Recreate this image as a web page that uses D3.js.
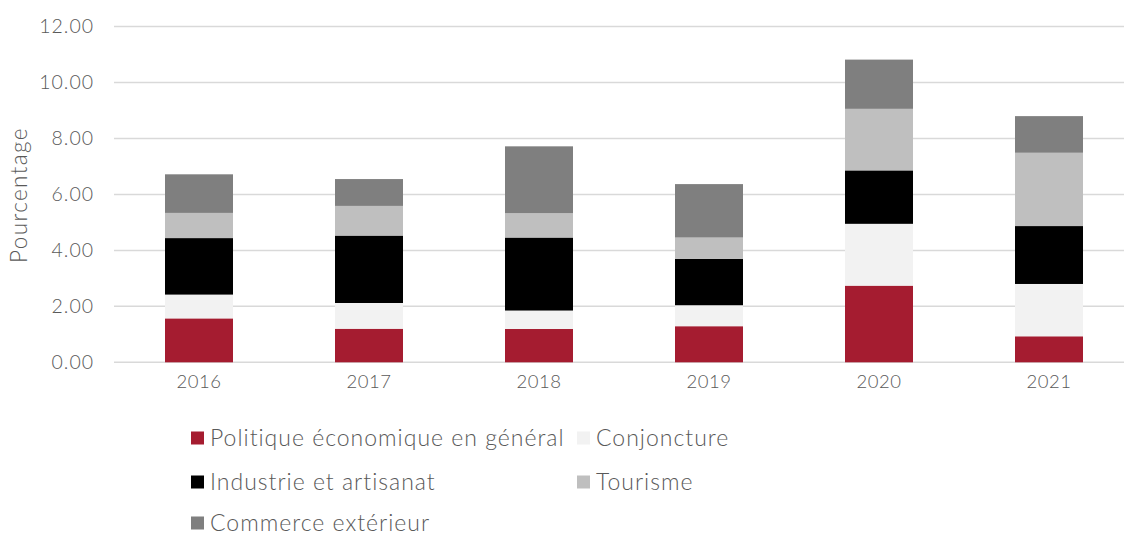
<!DOCTYPE html>
<html><head><meta charset="utf-8">
<script src="https://cdn.jsdelivr.net/npm/d3@7"></script>
<style>
body{margin:0;background:#fff;}
svg text{font-family:Lato,"Open Sans",sans-serif;font-weight:300;fill:#595959;}
</style></head>
<body><svg id="c" width="1124" height="536"></svg>
<script>
const years = ["2016","2017","2018","2019","2020","2021"];
const seriesNames = ["Politique économique en général","Conjoncture","Industrie et artisanat","Tourisme","Commerce extérieur"];
const politique = [1.57,1.20,1.19,1.29,2.74,0.93];
const conjoncture = [0.85,0.92,0.66,0.75,2.21,1.87];
const industrie = [2.02,2.41,2.61,1.66,1.91,2.07];
const tourisme = [0.90,1.06,0.87,0.76,2.20,2.62];
const commerce = [1.38,0.96,2.39,1.91,1.76,1.31];
const yTicks = [0,2,4,6,8,10,12];
const colors = ["#A51C30","#F2F2F2","#000000","#BFBFBF","#7F7F7F"];

const allSeries = [politique,conjoncture,industrie,tourisme,commerce];
const rows = years.map((y,i)=>{const r={year:y}; seriesNames.forEach((s,k)=>r[s]=allSeries[k][i]); return r;});
const stack = d3.stack().keys(seriesNames)(rows);

const svg = d3.select("#c");
const x = d3.scaleBand().domain(years).range([114,1134]).paddingInner(0.6).paddingOuter(0.3);
const y = d3.scaleLinear().domain([0,12]).range([362.3,26.6]);

// gridlines
svg.append("g").selectAll("line").data(yTicks).join("line")
  .attr("x1",114).attr("x2",1124)
  .attr("y1",d=>y(d)).attr("y2",d=>y(d))
  .attr("stroke","#d9d9d9").attr("stroke-width",1.5);

// y axis labels
const yAxis = d3.axisLeft(y).tickValues(yTicks).tickFormat(d3.format(".2f")).tickSize(0).tickPadding(0);
const ya = svg.append("g").attr("transform","translate(94,0)").call(yAxis);
ya.select(".domain").remove();
ya.selectAll("text").attr("font-size",19.5).attr("letter-spacing","1px").attr("font-family","Lato, sans-serif").attr("fill","#595959");

// bars
svg.append("g").selectAll("g").data(stack).join("g")
  .attr("fill",(d,i)=>colors[i])
  .selectAll("rect").data(d=>d).join("rect")
  .attr("x",d=>x(d.data.year)).attr("width",x.bandwidth())
  .attr("y",d=>y(d[1])).attr("height",d=>y(d[0])-y(d[1]));

// x axis labels
const xAxis = d3.axisBottom(x).tickSize(0).tickPadding(0);
const xa = svg.append("g").attr("transform","translate(0,375)").call(xAxis);
xa.select(".domain").remove();
xa.selectAll("text").attr("font-size",18.5).attr("letter-spacing","0.5px").attr("font-family","Lato, sans-serif").attr("fill","#595959").attr("dy","0.71em");

// y title
svg.append("text").attr("transform","translate(27,195) rotate(-90)")
  .attr("text-anchor","middle").attr("font-size",22.5).attr("letter-spacing","1.4px").text("Pourcentage");

// legend
const legPos = [[191,438],[577,438],[191,482],[577,482],[191,523]];
const lg = svg.append("g").selectAll("g").data(seriesNames).join("g")
  .attr("transform",(d,i)=>`translate(${legPos[i][0]},${legPos[i][1]})`);
lg.append("rect").attr("x",0).attr("y",-6.5).attr("width",13).attr("height",13).attr("fill",(d,i)=>colors[i]);
lg.append("text").attr("x",19).attr("y",0).attr("dy","0.35em").attr("font-size",23).attr("letter-spacing","1px").text(d=>d);
</script></body></html>
